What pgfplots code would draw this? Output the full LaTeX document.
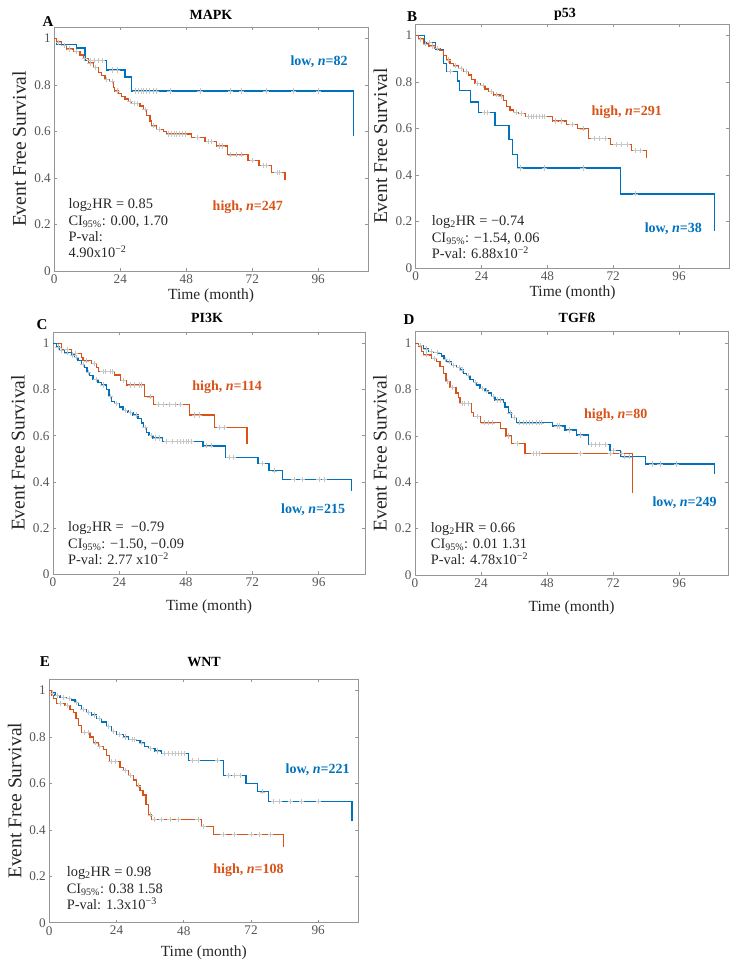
\documentclass[border=0pt]{standalone}
\usepackage{fontspec}
\setmainfont{Liberation Serif}
\usepackage{pgfplots}
\pgfplotsset{compat=1.18}

\definecolor{kmblue}{RGB}{0,114,189}
\definecolor{kmorange}{RGB}{217,83,25}
\definecolor{axgray}{RGB}{150,150,150}
\definecolor{txtgray}{RGB}{85,85,85}

\pgfplotsset{
  km/.style={
    scale only axis, anchor=north west, clip=false,
    ymin=0, ymax=1.05, xmin=0,
    xtick={0,24,48,72,96},
    ytick={0,0.2,0.4,0.6,0.8,1},
    yticklabels={0,0.2,0.4,0.6,0.8,1},
    /pgf/number format/assume math mode=true,
    tick align=inside, major tick length=3pt,
    axis line style={axgray, line width=0.8pt},
    tick style={axgray, line width=0.6pt},
    ticklabel style={font=\fontsize{13.2}{15}\selectfont, text=txtgray},
    xlabel={Time (month)}, ylabel={Event Free Survival},
    xlabel style={font=\fontsize{15.5}{17}\selectfont, text=black!85},
    ylabel style={font=\fontsize{19.5}{21}\selectfont, text=black!85,
      at={(rel axis cs:-0.112,0.5)}, anchor=center},
  },
  kmline/.style={const plot, line width=1.3pt, mark=none},
  cens/.style={only marks, mark=+, mark size=2.6pt, color=gray!45, mark options={line width=0.5pt}},
}
\tikzset{
  grp/.style={font=\fontsize{14}{16}\selectfont\bfseries},
  ann/.style={anchor=base west, inner ysep=0pt, font=\fontsize{14.4}{16}\selectfont, text=black!85},
}
\newcommand{\ttl}[1]{{\fontsize{14}{16}\selectfont\bfseries #1}}
\newcommand{\lett}[1]{{\fontsize{15}{17}\selectfont\bfseries #1}}

\begin{document}
\begin{tikzpicture}
\path[use as bounding box] (0pt,0pt) rectangle (739pt,-970pt);

% ---------- A: MAPK ----------
\begin{axis}[km, at={(54.3pt,-27pt)}, width=313.7pt, height=244pt, xmax=114.1,
  xlabel style={at={(rel axis cs:0.5,-0.10)}, anchor=center}]
\addplot[cens] coordinates {(13,0.905)(14.5,0.905)(16,0.905)(17.5,0.905)(21,0.865)(23,0.865)(29.5,0.775)(30.5,0.775)(31.5,0.775)(32.5,0.775)(33.5,0.775)(34.5,0.775)(36,0.775)(37,0.775)(42,0.775)(53,0.775)(64,0.775)(68,0.775)(77,0.775)(87,0.775)(96,0.775)};
\addplot[cens] coordinates {(1.5,0.985)(3.5,0.97)(5.5,0.955)(8,0.945)(11,0.915)(13,0.895)(15,0.875)(19,0.825)(21,0.815)(23,0.775)(27.5,0.73)(29,0.72)(30,0.72)(33,0.695)(36,0.625)(38,0.61)(41.5,0.59)(42.5,0.59)(43.5,0.59)(44.5,0.59)(45.5,0.59)(46.5,0.59)(47.5,0.59)(52,0.575)(56,0.557)(57,0.557)(60,0.538)(61,0.538)(64,0.5)(66,0.5)(68,0.5)(72,0.475)(76,0.453)(77,0.453)(81,0.423)(82,0.423)};
\addplot[kmline, kmblue] coordinates {(0,1)(0.8,0.975)(8.1,0.96)(11.2,0.905)(19,0.865)(25.7,0.835)(28.1,0.775)(108.7,0.58)};
\addplot[kmline, kmorange] coordinates {(0,1)(0.85,0.985)(2.7,0.97)(4.5,0.955)(6.9,0.945)(9.3,0.93)(10.5,0.915)(12.4,0.895)(14.2,0.875)(16,0.855)(17.2,0.84)(18.4,0.825)(20.2,0.815)(21.5,0.79)(22,0.775)(23.3,0.765)(24.5,0.75)(25.7,0.74)(26.9,0.73)(28.1,0.72)(31.2,0.71)(32.4,0.695)(33.6,0.67)(34.8,0.645)(35.4,0.625)(37.2,0.61)(39.6,0.6)(40.8,0.59)(49.9,0.575)(54.8,0.557)(59,0.538)(62.9,0.5)(70.5,0.475)(74.5,0.453)(79,0.423)(83.9,0.39)};
\node[grp, text=kmblue] at (axis cs:96.3,0.90) {low, \textit{n}=82};
\node[grp, text=kmorange] at (axis cs:70.4,0.276) {high, \textit{n}=247};
\node[ann] at (axis cs:3.9,0.270) {log\textsubscript{2}HR = 0.85};
\node[ann] at (axis cs:3.9,0.197) {CI\textsubscript{95\%}: 0.00, 1.70};
\node[ann] at (axis cs:3.9,0.128) {P-val:};
\node[ann] at (axis cs:3.9,0.059) {4.90x10\textsuperscript{−2}};
\end{axis}
\node at (211pt,-15pt) {\ttl{MAPK}};
\node at (48pt,-22pt) {\lett{A}};

% ---------- B: p53 ----------
\begin{axis}[km, at={(415.7pt,-24pt)}, width=313.6pt, height=244pt, xmax=114.3,
  xlabel style={at={(rel axis cs:0.5,-0.10)}, anchor=center}]
\addplot[cens] coordinates {(5,0.971)(12.5,0.846)(25,0.669)(26,0.669)(38,0.43)(47,0.43)(61,0.43)(80,0.319)};
\addplot[cens] coordinates {(1.8,0.985)(3.5,0.965)(6,0.955)(8,0.945)(12,0.895)(14.5,0.87)(16.5,0.86)(18.5,0.845)(22.5,0.795)(24.5,0.785)(27.5,0.76)(29.5,0.745)(31,0.74)(36.5,0.67)(38.5,0.665)(41,0.652)(42,0.652)(43,0.652)(44,0.652)(45,0.652)(46,0.652)(47,0.652)(51,0.633)(53,0.633)(57,0.617)(61,0.599)(65,0.558)(67,0.558)(69,0.558)(73,0.532)(75,0.532)(77,0.532)(80,0.505)(82,0.505)};
\addplot[kmline, kmblue] coordinates {(0,1)(3.2,0.971)(7.3,0.941)(10.1,0.88)(11.3,0.846)(15.2,0.805)(15.9,0.765)(20,0.715)(22.8,0.669)(28.9,0.613)(34,0.553)(35.2,0.489)(37.1,0.43)(74.7,0.319)(108.9,0.161)};
\addplot[kmline, kmorange] coordinates {(0,1)(1,0.985)(2.8,0.965)(4.6,0.955)(7,0.945)(8.9,0.935)(10.1,0.915)(11.3,0.895)(12.5,0.88)(13.7,0.87)(15.6,0.86)(17.4,0.845)(19.2,0.83)(20.4,0.81)(21.6,0.795)(23.5,0.785)(25.3,0.77)(26.5,0.76)(28.3,0.745)(30.7,0.74)(32,0.72)(33.2,0.695)(34.4,0.68)(35.6,0.67)(37.4,0.665)(39.9,0.652)(49.9,0.633)(55,0.617)(59,0.599)(63,0.558)(71.1,0.532)(78.7,0.505)(84,0.475)};
\node[grp, text=kmorange] at (axis cs:76.9,0.669) {high, \textit{n}=291};
\node[grp, text=kmblue] at (axis cs:93.9,0.171) {low, \textit{n}=38};
\node[ann] at (axis cs:4.6,0.182) {log\textsubscript{2}HR = −0.74};
\node[ann] at (axis cs:4.6,0.110) {CI\textsubscript{95\%}: −1.54, 0.06};
\node[ann] at (axis cs:4.6,0.039) {P-val: 6.88x10\textsuperscript{−2}};
\end{axis}
\node at (565pt,-14pt) {\ttl{p53}};
\node at (412pt,-17pt) {\lett{B}};

% ---------- C: PI3K ----------
\begin{axis}[km, at={(53pt,-332pt)}, width=312pt, height=242pt, xmax=112.7,
  xlabel style={at={(rel axis cs:0.5,-0.136)}, anchor=center}]
\addplot[cens] coordinates {(5,0.974)(8,0.958)(12,0.925)(15,0.913)(18,0.88)(19,0.88)(20.5,0.88)(21.5,0.88)(25.5,0.84)(28,0.82)(29.5,0.82)(31,0.82)(32,0.82)(35,0.769)(38,0.735)(40,0.735)(42,0.735)(44,0.735)(46,0.735)(51,0.69)(53,0.69)(60,0.636)(62,0.636)};
\addplot[cens] coordinates {(1.8,0.985)(3,0.97)(5,0.96)(7,0.95)(8.5,0.94)(10.8,0.91)(12.8,0.875)(15.5,0.845)(18,0.82)(20.7,0.77)(23,0.74)(26,0.71)(28,0.7)(30,0.69)(33.2,0.635)(35.5,0.6)(37,0.59)(38.5,0.59)(41,0.574)(43,0.574)(45,0.574)(46,0.574)(47,0.574)(48,0.574)(49,0.574)(50,0.574)(55.5,0.556)(57,0.556)(63.5,0.506)(65,0.506)(75.5,0.48)(80,0.448)(87,0.41)(90,0.41)(96,0.41)(98,0.41)};
\addplot[kmline, kmorange] coordinates {(0,1)(3,0.974)(6.6,0.958)(10.2,0.94)(10.8,0.925)(13.9,0.913)(15.7,0.895)(16.5,0.88)(22.3,0.863)(24.3,0.84)(26.5,0.82)(33.1,0.769)(36.4,0.735)(49.4,0.69)(58.4,0.636)(70.1,0.564)};
\addplot[kmline, kmblue] coordinates {(0,1)(1.2,0.985)(2.4,0.97)(4.2,0.96)(6.6,0.95)(7.8,0.94)(9,0.925)(10.2,0.91)(11.4,0.895)(12.3,0.875)(13.2,0.86)(14.5,0.845)(16.3,0.83)(17.5,0.82)(19.3,0.8)(20.2,0.77)(21.1,0.75)(22.3,0.74)(24.1,0.725)(25.3,0.71)(27.1,0.7)(28.9,0.69)(30.7,0.675)(31.9,0.655)(32.8,0.635)(33.7,0.615)(34.7,0.6)(36.1,0.59)(39.5,0.574)(54.2,0.556)(62.3,0.506)(74.1,0.48)(78,0.448)(82.9,0.41)(107.8,0.36)};
\node[grp, text=kmorange] at (axis cs:62.9,0.809) {high, \textit{n}=114};
\node[grp, text=kmblue] at (axis cs:94,0.277) {low, \textit{n}=215};
\node[ann] at (axis cs:4.2,0.184) {log\textsubscript{2}HR =\ \ −0.79};
\node[ann] at (axis cs:4.2,0.112) {CI\textsubscript{95\%}: −1.50, −0.09};
\node[ann] at (axis cs:4.2,0.040) {P-val: 2.77 x10\textsuperscript{−2}};
\end{axis}
\node at (207pt,-318pt) {\ttl{PI3K}};
\node at (42pt,-325pt) {\lett{C}};

% ---------- D: TGFb ----------
\begin{axis}[km, at={(415pt,-331.7pt)}, width=313.3pt, height=243.3pt, xmax=113.8,
  xlabel style={at={(rel axis cs:0.5,-0.136)}, anchor=center}]
\addplot[cens] coordinates {(2,0.99)(4,0.975)(6,0.965)(8,0.96)(11,0.93)(12.5,0.92)(14,0.905)(16,0.895)(17,0.885)(19.5,0.86)(22,0.83)(24.5,0.805)(26,0.795)(28.5,0.77)(30,0.755)(31,0.755)(34.5,0.7)(36,0.68)(38,0.657)(39.5,0.657)(40.5,0.657)(41.5,0.657)(42.5,0.657)(44,0.657)(45,0.657)(46,0.657)(51.5,0.643)(52.5,0.643)(56,0.626)(60,0.604)(64,0.564)(65.5,0.564)(67,0.564)(69,0.564)(72,0.537)(76,0.51)(78,0.51)(86,0.479)(89,0.479)(95,0.479)};
\addplot[cens] coordinates {(4,0.95)(7,0.935)(11.8,0.835)(13.5,0.81)(17,0.74)(18,0.74)(19.5,0.74)(22.5,0.683)(25,0.657)(26.5,0.657)(28,0.657)(34,0.6)(37,0.568)(43,0.525)(44,0.525)(45,0.525)(60,0.525)(71,0.525)(75,0.525)};
\addplot[kmline, kmblue] coordinates {(0,1)(1.2,0.99)(3,0.975)(4.8,0.965)(6.7,0.96)(8.5,0.955)(9.7,0.945)(10.5,0.93)(11.5,0.92)(13.3,0.905)(15.1,0.895)(16.3,0.885)(17.6,0.87)(18.8,0.86)(20,0.845)(21.2,0.83)(22.4,0.82)(23.6,0.805)(25.4,0.795)(26.6,0.785)(27.8,0.77)(29.1,0.755)(32.1,0.745)(32.7,0.725)(33.9,0.7)(35.1,0.68)(36.9,0.657)(50,0.643)(54.5,0.626)(58.7,0.604)(63,0.564)(70.8,0.537)(74.7,0.51)(83.7,0.479)(108.7,0.436)};
\addplot[kmline, kmorange] coordinates {(0,1)(1.2,0.985)(2.4,0.965)(3,0.95)(6.1,0.935)(7.9,0.92)(9.1,0.9)(10.3,0.87)(11.3,0.835)(12.7,0.81)(14.9,0.785)(15.7,0.765)(16.3,0.74)(20.6,0.7)(21.2,0.683)(23.8,0.657)(31.1,0.632)(33.1,0.6)(35.1,0.568)(40,0.525)(78.9,0.353)};
\node[grp, text=kmorange] at (axis cs:72.9,0.688) {high, \textit{n}=80};
\node[grp, text=kmblue] at (axis cs:97.9,0.314) {low, \textit{n}=249};
\node[ann] at (axis cs:4.5,0.185) {log\textsubscript{2}HR = 0.66};
\node[ann] at (axis cs:4.5,0.115) {CI\textsubscript{95\%}: 0.01 1.31};
\node[ann] at (axis cs:4.5,0.046) {P-val: 4.78x10\textsuperscript{−2}};
\end{axis}
\node at (577pt,-318pt) {\ttl{TGFß}};
\node at (409pt,-320pt) {\lett{D}};

% ---------- E: WNT ----------
\begin{axis}[km, at={(49.3pt,-679pt)}, width=309pt, height=243.7pt, xmax=110.3,
  xlabel style={at={(rel axis cs:0.5,-0.123)}, anchor=center}]
\addplot[cens] coordinates {(1.2,0.99)(3,0.98)(5,0.97)(7,0.965)(9.7,0.95)(12,0.92)(14,0.905)(16,0.895)(18,0.88)(21,0.845)(23,0.825)(25,0.81)(27,0.8)(29.5,0.79)(30.5,0.79)(33,0.775)(36,0.75)(38.5,0.74)(41,0.728)(42.5,0.728)(44,0.728)(45,0.728)(46,0.728)(47,0.728)(48,0.728)(51,0.699)(53,0.699)(60,0.699)(64,0.635)(66,0.635)(68,0.635)(76,0.564)(80,0.522)(82,0.522)(86,0.522)(90,0.522)(96,0.522)};
\addplot[cens] coordinates {(4,0.945)(6.5,0.935)(12.5,0.82)(14,0.82)(16.5,0.775)(18,0.76)(22,0.695)(23.5,0.695)(27,0.655)(29,0.635)(31.7,0.59)(36,0.465)(37.5,0.444)(40,0.444)(43,0.444)(46,0.444)(53,0.444)(55,0.416)(62,0.38)(66,0.38)(72,0.38)(75,0.38)(79,0.38)};
\addplot[kmline, kmblue] coordinates {(0,1)(0.8,0.99)(2,0.98)(3.8,0.97)(6.2,0.965)(8,0.96)(9.2,0.95)(10.3,0.935)(11.5,0.92)(13.3,0.905)(15.1,0.895)(16.9,0.88)(18.7,0.865)(20.5,0.845)(22.2,0.825)(24,0.81)(26.4,0.8)(28.2,0.79)(31.2,0.785)(32.4,0.775)(34.1,0.76)(35.3,0.75)(37.7,0.74)(40.1,0.728)(49.6,0.699)(62.3,0.635)(70.2,0.6)(74.4,0.564)(78.2,0.522)(108.1,0.437)};
\addplot[kmline, kmorange] coordinates {(0,1)(0.8,0.98)(1.4,0.965)(2.6,0.945)(5.6,0.935)(7.4,0.92)(8.6,0.905)(9.5,0.88)(10.3,0.85)(11.5,0.82)(14.5,0.8)(15.7,0.775)(17.5,0.76)(19.3,0.745)(20.5,0.72)(21.4,0.695)(25.2,0.67)(26.4,0.655)(28.2,0.635)(30,0.615)(31.2,0.59)(32.4,0.57)(33.5,0.55)(34.5,0.508)(35.3,0.465)(36.5,0.444)(54.4,0.416)(58.5,0.38)(83.5,0.326)};
\node[grp, text=kmblue] at (axis cs:95.8,0.661) {low, \textit{n}=221};
\node[grp, text=kmorange] at (axis cs:71.1,0.227) {high, \textit{n}=108};
\node[ann] at (axis cs:5,0.198) {log\textsubscript{2}HR = 0.98};
\node[ann] at (axis cs:5,0.127) {CI\textsubscript{95\%}: 0.38 1.58};
\node[ann] at (axis cs:5,0.056) {P-val: 1.3x10\textsuperscript{−3}};
\end{axis}
\node at (204pt,-662pt) {\ttl{WNT}};
\node at (45pt,-662pt) {\lett{E}};
\end{tikzpicture}
\end{document}
